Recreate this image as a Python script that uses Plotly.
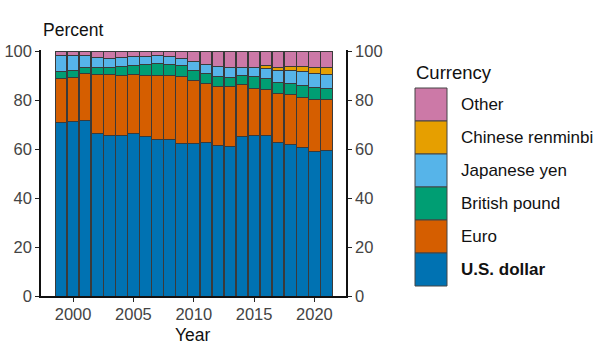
import plotly.graph_objects as go

years = list(range(1999, 2022))
usd = [71.0, 71.1, 71.5, 66.5, 65.4, 65.5, 66.5, 65.0, 63.9, 63.8, 62.1, 62.2, 62.6, 61.5, 61.2, 65.1, 65.7, 65.4, 62.7, 61.7, 60.7, 59.0, 59.5]
eur = [17.9, 18.3, 19.2, 23.8, 25.0, 24.7, 24.0, 25.1, 26.3, 26.4, 27.7, 26.0, 24.4, 24.2, 24.2, 21.2, 19.1, 19.1, 20.2, 20.7, 20.6, 21.3, 20.6]
gbp = [2.9, 2.8, 2.7, 2.9, 2.9, 3.5, 3.7, 4.5, 4.8, 4.2, 4.2, 3.9, 3.8, 4.0, 4.0, 3.7, 4.7, 4.4, 4.5, 4.4, 4.6, 4.7, 4.8]
jpy = [6.4, 6.1, 5.0, 4.4, 3.9, 3.8, 3.6, 3.1, 3.2, 3.5, 2.9, 3.7, 3.6, 4.1, 3.8, 3.5, 3.8, 4.0, 4.9, 5.2, 5.9, 6.0, 5.5]
cny = [0, 0, 0, 0, 0, 0, 0, 0, 0, 0, 0, 0, 0, 0, 0, 0, 0, 1.1, 1.2, 1.9, 1.9, 2.3, 2.8]
other = [1.8, 1.7, 1.6, 2.4, 2.8, 2.5, 2.2, 2.3, 1.8, 2.1, 3.1, 4.2, 5.6, 6.2, 6.8, 6.5, 6.7, 6.0, 6.5, 6.1, 6.3, 6.7, 6.8]

names = ["U.S. dollar", "Euro", "British pound", "Japanese yen", "Chinese renminbi", "Other"]
series = [usd, eur, gbp, jpy, cny, other]
colors = ["#0072B2", "#D55E00", "#009E73", "#56B4E9", "#E69F00", "#CC79A7"]

y_ticks = [0, 20, 40, 60, 80, 100]
x_ticks = [2000, 2005, 2010, 2015, 2020]

FONT = "Liberation Sans, Arial, sans-serif"
W, H = 603, 352
L, R, T, B = 41, 257, 50, 56
PW, PH = W - L - R, H - T - B

def px(xp):
    return (xp - L) / PW

def py(yp):
    return (H - B - yp) / PH

fig = go.Figure()
for n, s, c in zip(names, series, colors):
    fig.add_trace(go.Bar(x=years, y=s, name=n, marker=dict(color=c, line=dict(color="#3a3a3a", width=1)),
                         showlegend=False))
fig.add_trace(go.Scatter(x=[None], y=[None], yaxis="y2", showlegend=False, hoverinfo="skip"))

shapes = []
annotations = []
# custom legend
box_top = 88
box_h = 33
for i, (n, c) in enumerate(zip(names[::-1], colors[::-1])):
    y0 = box_top + i * box_h
    shapes.append(dict(type="rect", xref="paper", yref="paper",
                       x0=px(415), x1=px(447), y0=py(y0 + box_h), y1=py(y0),
                       fillcolor=c, line=dict(color="#444444", width=1)))
    annotations.append(dict(xref="paper", yref="paper", x=px(459), y=py(y0 + box_h / 2),
                            xanchor="left", yanchor="middle", showarrow=False,
                            text=("<b>%s</b>" % n) if n == "U.S. dollar" else n,
                            font=dict(family=FONT, size=17, color="#111")))
annotations.append(dict(xref="paper", yref="paper", x=px(414), y=py(72), xanchor="left", yanchor="middle",
                        showarrow=False, text="Currency", font=dict(family=FONT, size=18.5, color="#111")))
annotations.append(dict(xref="paper", yref="paper", x=px(41), y=py(30), xanchor="left", yanchor="middle",
                        showarrow=False, text="Percent", font=dict(family=FONT, size=17.5, color="#111")))
annotations.append(dict(xref="paper", yref="paper", x=px(193), y=py(335), xanchor="center", yanchor="middle",
                        showarrow=False, text="Year", font=dict(family=FONT, size=17.5, color="#111")))

axis_common = dict(range=[0, 100.5], tickvals=y_ticks, ticks="outside", ticklen=4, tickcolor="#222",
                   showline=True, linecolor="#111", linewidth=1.5, showgrid=False, zeroline=False,
                   automargin=False,
                   tickfont=dict(family=FONT, size=16.5, color="#444"), fixedrange=True)

fig.update_layout(
    template="none",
    width=W, height=H, margin=dict(l=L, r=R, t=T, b=B, autoexpand=False),
    paper_bgcolor="white", plot_bgcolor="white",
    barmode="stack", bargap=0.04,
    xaxis=dict(range=[1997.34, 2022.62], tickvals=x_ticks, ticks="outside", ticklen=4, tickcolor="#222",
               showline=True, linecolor="#111", linewidth=1.5, showgrid=False, zeroline=False,
               ticklabelstandoff=-2, automargin=False,
               tickfont=dict(family=FONT, size=16.5, color="#444")),
    yaxis=dict(side="left", **axis_common),
    yaxis2=dict(side="right", overlaying="y", **axis_common),
    shapes=shapes, annotations=annotations,
    showlegend=False,
)

fig.write_html("out.html")
